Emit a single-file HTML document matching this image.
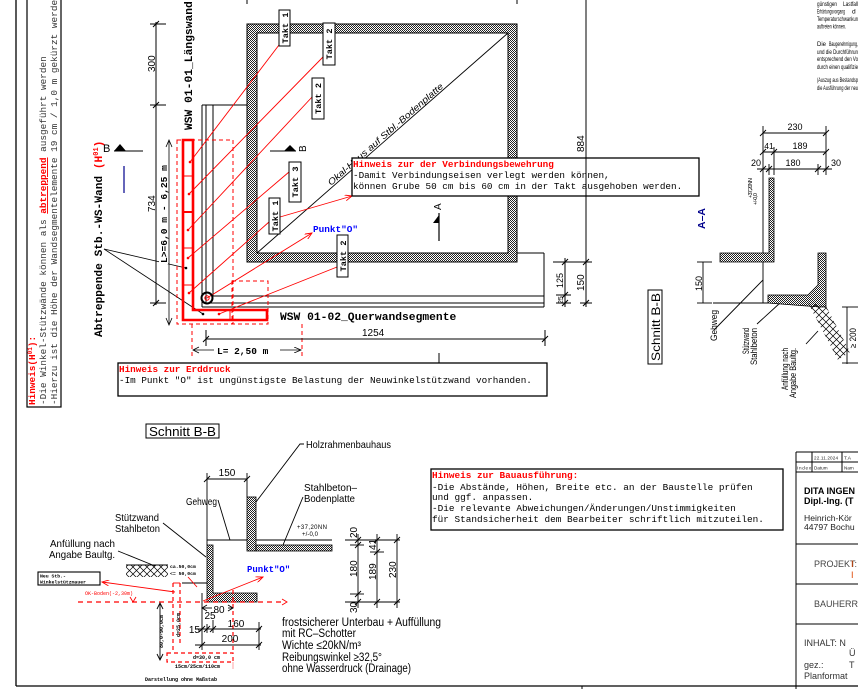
<!DOCTYPE html>
<html><head><meta charset="utf-8"><style>
html,body{margin:0;padding:0;background:#fff;}
svg{display:block;}
.m{font-family:"Liberation Mono",monospace;}
.s{font-family:"Liberation Sans",sans-serif;}
</style></head><body>
<svg width="858" height="689" viewBox="0 0 858 689" xmlns="http://www.w3.org/2000/svg">
<defs>
<pattern id="hx" width="2" height="2" patternUnits="userSpaceOnUse"><rect width="2" height="2" fill="#fff"/><rect width="1" height="1" fill="#222"/><rect x="1" y="1" width="1" height="1" fill="#222"/></pattern>
<pattern id="hf" width="7" height="7" patternUnits="userSpaceOnUse"><path d="M0,0L7,7M7,0L0,7" stroke="#000" stroke-width="0.7"/></pattern>
<marker id="ra" markerWidth="8" markerHeight="6" refX="7" refY="3" orient="auto" markerUnits="userSpaceOnUse"><path d="M0,0L7,3L0,6" fill="none" stroke="#f00" stroke-width="0.9"/></marker>
<marker id="ka" markerWidth="8" markerHeight="6" refX="7" refY="3" orient="auto" markerUnits="userSpaceOnUse"><path d="M0,0L7,3L0,6" fill="none" stroke="#000" stroke-width="0.8"/></marker>
</defs>

<!-- frame -->
<line x1="16" y1="0" x2="16" y2="686" stroke="#000" stroke-width="1.3"/>
<line x1="16" y1="686" x2="858" y2="686" stroke="#000" stroke-width="1.3"/>
<line x1="582" y1="686" x2="582" y2="689" stroke="#000"/>
<line x1="247" y1="0" x2="247" y2="4" stroke="#000"/>
<line x1="517" y1="0" x2="517" y2="4" stroke="#000"/>

<!-- left rotated note -->
<rect x="27" y="-2" width="34" height="409" fill="none" stroke="#000" stroke-width="1.2"/>
<g class="m" font-size="9.4">
<text transform="translate(35,405) rotate(-90)" fill="#f00" font-weight="bold">Hinweis(H<tspan font-size="6" dy="-3">01</tspan><tspan dy="3">):</tspan></text>
<text transform="translate(46,405) rotate(-90)" fill="#333">-Die Winkel-Stützwände können als <tspan fill="#f00" text-decoration="underline" font-weight="bold">abtreppend</tspan> ausgeführt werden</text>
<text transform="translate(57,405) rotate(-90)" fill="#333">-Hierzu ist die Höhe der Wandsegmentelemente 19 cm / 1,0 m gekürzt werden</text>
</g>

<!-- Abtreppende text -->
<text class="m" font-size="11.2" font-weight="bold" transform="translate(102,337) rotate(-90)">Abtreppende Stb.-WS-Wand <tspan fill="#f00">(H<tspan font-size="7" dy="-4">01</tspan><tspan dy="4">)</tspan></tspan></text>
<line x1="104" y1="249" x2="186" y2="268" stroke="#000" stroke-width="0.8"/>
<line x1="104" y1="249" x2="203" y2="314" stroke="#000" stroke-width="0.8"/>
<circle cx="186" cy="268" r="1.3" fill="#000"/>
<circle cx="203" cy="314" r="1.3" fill="#000"/>

<!-- B marker left -->
<text class="s" font-size="11" x="103" y="152">B</text>
<polygon points="114,151 120,144 126,151" fill="#000"/>
<line x1="114" y1="151" x2="143" y2="151" stroke="#000"/>
<line x1="124" y1="166" x2="124" y2="193" stroke="#00008b" stroke-width="1.2"/>

<!-- WSW 01-01 -->
<text class="m" font-size="11.3" font-weight="bold" transform="translate(192,130) rotate(-90)">WSW 01-01_Längswand</text>

<!-- dim 300/734 -->
<line x1="156" y1="22" x2="156" y2="305" stroke="#000"/>
<line x1="150" y1="24" x2="166" y2="24" stroke="#000"/>
<line x1="150" y1="105" x2="166" y2="105" stroke="#000"/>
<line x1="150" y1="303" x2="166" y2="303" stroke="#000"/>
<path d="M153,27L159,21M153,108L159,102M153,306L159,300" stroke="#000"/>
<text class="s" font-size="10" transform="translate(155,72) rotate(-90)">300</text>
<text class="s" font-size="10" transform="translate(155,212) rotate(-90)">734</text>

<!-- L dim -->
<line x1="169" y1="140" x2="169" y2="325" stroke="#000" stroke-width="0.8"/>
<path d="M166,147L169,140L172,147M166,318L169,325L172,318" fill="none" stroke="#000" stroke-width="0.8"/>
<rect x="159" y="162" width="9" height="102" fill="#fff"/>
<text class="m" font-size="9.6" font-weight="bold" transform="translate(167,263) rotate(-90)">L&gt;=6,0 m - 6,25 m</text>

<!-- plan lines -->
<g stroke="#000" stroke-width="1" fill="none">
<line x1="202" y1="105" x2="257" y2="105"/>
<line x1="202" y1="105" x2="202" y2="307"/>
<line x1="206" y1="105" x2="206" y2="303"/>
<line x1="213" y1="105" x2="213" y2="296"/>
<line x1="213" y1="296" x2="544" y2="296"/>
<line x1="206" y1="303" x2="544" y2="303"/>
<line x1="202" y1="307" x2="544" y2="307"/>
<line x1="544" y1="253" x2="544" y2="307"/>
<line x1="517" y1="253" x2="544" y2="253"/>
</g>

<!-- building -->
<rect x="247" y="24" width="270" height="238" fill="url(#hx)" stroke="#000"/>
<rect x="257" y="33" width="251" height="220" fill="#fff" stroke="#000"/>
<line x1="257" y1="253" x2="508" y2="33" stroke="#000" stroke-width="0.9"/>
<text class="s" font-size="9" font-style="italic" transform="translate(331,186) rotate(-41.2)" textLength="150" lengthAdjust="spacingAndGlyphs">Okal-Haus auf Stbl.-Bodenplatte</text>

<!-- B marker in plan -->
<line x1="270" y1="151" x2="296" y2="151" stroke="#000"/>
<polygon points="284,151 290,145 296,151" fill="#000"/>
<text class="s" font-size="10" transform="translate(306,152) rotate(-90)">B</text>

<!-- A marker -->
<line x1="439" y1="213" x2="439" y2="241" stroke="#000" stroke-width="1.2"/>
<polygon points="433,223 439,215 439,223" fill="#000"/>
<text class="s" font-size="10" transform="translate(441,210) rotate(-90)">A</text>

<!-- red wall -->
<g fill="none" stroke="#f00">
<rect x="177" y="140" width="56" height="184" stroke-dasharray="4,3"/>
<rect x="232" y="281" width="36" height="43" stroke-dasharray="4,3"/>
<line x1="192" y1="324" x2="192" y2="358" stroke-dasharray="4,3"/>
<line x1="302" y1="324" x2="302" y2="358" stroke-dasharray="4,3"/>
<path d="M183,140L193,140L193,310L267,310L267,320L183,320Z" stroke-width="2.6"/>
<line x1="183" y1="176" x2="193" y2="176"/>
<line x1="183" y1="212" x2="193" y2="212" stroke-width="2"/>
<line x1="183" y1="248" x2="193" y2="248"/>
<line x1="183" y1="285" x2="193" y2="285"/>
<line x1="230" y1="310" x2="230" y2="320"/>
</g>

<!-- L=2,50 -->
<line x1="193" y1="350" x2="214" y2="350" stroke="#000" stroke-width="0.8"/>
<line x1="280" y1="350" x2="301" y2="350" stroke="#000" stroke-width="0.8" marker-end="url(#ka)"/>
<path d="M199,347L193,350L199,353" fill="none" stroke="#000" stroke-width="0.8"/>
<text class="m" font-size="9.5" font-weight="bold" x="217" y="354">L= 2,50 m</text>

<!-- red leaders -->
<g stroke="#f00" stroke-width="0.9" fill="none">
<line x1="190" y1="162" x2="279" y2="45"/>
<line x1="189" y1="194" x2="323" y2="57"/>
<line x1="188" y1="230" x2="313" y2="96"/>
<line x1="188" y1="258" x2="289" y2="172"/>
<line x1="189" y1="293" x2="269" y2="222"/>
<line x1="219" y1="314" x2="337" y2="267"/>
<line x1="207" y1="298" x2="312" y2="233" marker-end="url(#ra)"/>
<line x1="280" y1="217" x2="352" y2="196" marker-end="url(#ra)"/>
</g>
<g fill="#f00">
<circle cx="190" cy="162" r="1.3"/><circle cx="189" cy="194" r="1.3"/><circle cx="188" cy="230" r="1.3"/>
<circle cx="188" cy="258" r="1.3"/><circle cx="189" cy="293" r="1.3"/><circle cx="219" cy="314" r="1.3"/>
</g>
<circle cx="207" cy="298" r="5.5" fill="none" stroke="#000" stroke-width="2"/>
<circle cx="207" cy="298" r="2.2" fill="none" stroke="#f00"/>

<!-- Takt boxes -->
<g class="m" font-size="8.6" font-weight="bold" text-anchor="middle">
<rect x="279" y="10" width="11" height="36" fill="#fff" stroke="#000"/>
<text transform="translate(288,28) rotate(-90)">Takt 1</text>
<rect x="323" y="23" width="12" height="42" fill="#fff" stroke="#000"/>
<text transform="translate(332,44) rotate(-90)">Takt 2</text>
<rect x="312" y="78" width="12" height="41" fill="#fff" stroke="#000"/>
<text transform="translate(321,98.5) rotate(-90)">Takt 2</text>
<rect x="289" y="162" width="12" height="40" fill="#fff" stroke="#000"/>
<text transform="translate(298,182) rotate(-90)">Takt 3</text>
<rect x="269" y="198" width="11" height="36" fill="#fff" stroke="#000"/>
<text transform="translate(278,216) rotate(-90)">Takt 1</text>
<rect x="337" y="235" width="11" height="42" fill="#fff" stroke="#000"/>
<text transform="translate(346,256) rotate(-90)">Takt 2</text>
</g>

<text class="m" font-size="9.4" font-weight="bold" fill="#00f" x="313" y="232">Punkt"O"</text>

<!-- Hinweis Verbindung -->
<rect x="352" y="158" width="347" height="38" fill="#fff" stroke="#000" stroke-width="1.3"/>
<g class="m" font-size="9.3">
<text x="353" y="167" fill="#f00" font-weight="bold">Hinweis zur der Verbindungsbewehrung</text>
<text x="353" y="178">-Damit Verbindungseisen verlegt werden können,</text>
<text x="353" y="189"> können Grube 50 cm bis 60 cm in der Takt ausgehoben werden.</text>
</g>

<!-- WSW 01-02 -->
<text class="m" font-size="11.3" font-weight="bold" x="280" y="320">WSW 01-02_Querwandsegmente</text>

<!-- right dims plan -->
<line x1="586" y1="0" x2="586" y2="307" stroke="#000"/>
<line x1="565" y1="258" x2="565" y2="307" stroke="#000"/>
<g stroke="#000">
<line x1="553" y1="262" x2="592" y2="262"/>
<line x1="580" y1="303" x2="592" y2="303"/>
<line x1="556" y1="295" x2="571" y2="295"/>
<line x1="556" y1="303" x2="571" y2="303"/>
<path d="M562,265L568,259M562,298L568,292M562,306L568,300M583,265L589,259M583,306L589,300"/>
</g>
<text class="s" font-size="10" transform="translate(584,152) rotate(-90)">884</text>
<text class="s" font-size="10" transform="translate(584,291) rotate(-90)">150</text>
<text class="s" font-size="9" transform="translate(563,288) rotate(-90)">125</text>
<text class="s" font-size="7" transform="translate(563,304) rotate(-90)">25</text>

<!-- 1254 dim -->
<line x1="206" y1="339" x2="545" y2="339" stroke="#000"/>
<line x1="206" y1="330" x2="206" y2="346" stroke="#000"/>
<line x1="545" y1="330" x2="545" y2="346" stroke="#000"/>
<path d="M203,342L209,336M542,342L548,336" stroke="#000"/>
<text class="s" font-size="10" x="362" y="336">1254</text>
<line x1="439" y1="353" x2="439" y2="363" stroke="#000"/>

<!-- Hinweis Erddruck -->
<rect x="118" y="363" width="429" height="33" fill="#fff" stroke="#000" stroke-width="1.3"/>
<g class="m" font-size="9.3">
<text x="119" y="372" fill="#f00" font-weight="bold">Hinweis zur Erddruck</text>
<text x="119" y="383">-Im Punkt "O" ist ungünstigste Belastung der Neuwinkelstützwand vorhanden.</text>
</g>

<!-- Schnitt B-B rotated -->
<rect x="648" y="290" width="14" height="74" fill="none" stroke="#000"/>
<text class="s" font-size="12" transform="translate(660,361) rotate(-90)" textLength="68" lengthAdjust="spacingAndGlyphs">Schnitt B-B</text>

<!-- top right text block -->
<g class="s" font-size="6.6" fill="#000">
<text x="817" y="6" textLength="20" lengthAdjust="spacingAndGlyphs">günstigen</text>
<text x="843" y="6" textLength="15" lengthAdjust="spacingAndGlyphs">Lastfall</text>
<text x="817" y="13.5" textLength="28" lengthAdjust="spacingAndGlyphs">Erhärtungsvorgang</text>
<text x="852" y="13.5">d</text>
<text x="817" y="21" textLength="41" lengthAdjust="spacingAndGlyphs">Temperaturschwankun</text>
<text x="817" y="28.5" textLength="29" lengthAdjust="spacingAndGlyphs">auftreten können.</text>
<text x="817" y="46" textLength="9" lengthAdjust="spacingAndGlyphs">Die</text>
<text x="829" y="46" textLength="29" lengthAdjust="spacingAndGlyphs">Baugenehmigung,</text>
<text x="817" y="54" textLength="41" lengthAdjust="spacingAndGlyphs">und  die  Durchführun</text>
<text x="817" y="61" textLength="41" lengthAdjust="spacingAndGlyphs">entsprechend den Vo</text>
<text x="817" y="69" textLength="41" lengthAdjust="spacingAndGlyphs">durch  einen  qualifizie</text>
<text x="817" y="82" textLength="41" lengthAdjust="spacingAndGlyphs">(Auszug aus Bestandsp</text>
<text x="817" y="90" textLength="41" lengthAdjust="spacingAndGlyphs">die Ausführung der neu</text>
</g>

<!-- A-A section -->
<g stroke="#000" stroke-width="0.9" fill="none">
<line x1="763" y1="133" x2="826" y2="133"/>
<line x1="763" y1="152" x2="826" y2="152"/>
<line x1="757" y1="169" x2="832" y2="169"/>
<line x1="763" y1="126" x2="763" y2="303"/>
<line x1="826" y1="126" x2="826" y2="175"/>
<line x1="774" y1="147" x2="774" y2="175"/>
<line x1="769" y1="164" x2="769" y2="175"/>
<line x1="818" y1="164" x2="818" y2="175"/>
<path d="M760,136L766,130M823,136L829,130M760,155L766,149M771,155L777,149M823,155L829,149M760,172L766,166M766,172L772,166M815,172L821,166M823,172L829,166"/>
<line x1="713" y1="303" x2="768" y2="303"/>
<line x1="703" y1="262" x2="703" y2="303"/>
<line x1="697" y1="262" x2="712" y2="262"/>
<line x1="697" y1="303" x2="712" y2="303"/>
<line x1="763" y1="280" x2="714" y2="330"/>
<line x1="780" y1="303" x2="757" y2="324"/>
<line x1="818" y1="331" x2="806" y2="344"/>
<line x1="847" y1="307" x2="847" y2="364"/>
<line x1="842" y1="307" x2="858" y2="307"/>
<line x1="842" y1="363" x2="858" y2="363"/>
</g>
<path d="M769,178L774,178L774,262L720,262L720,253L769,253Z" fill="url(#hx)" stroke="#000" stroke-width="0.8"/>
<path d="M768,295L808,295L818,285L818,253L826,253L826,307L820,307L768,303Z" fill="url(#hx)" stroke="#000" stroke-width="0.8"/>
<polygon points="808,303 826,306 850,352 838,360" fill="url(#hf)" stroke="none"/>
<g class="s" font-size="9">
<text x="795" y="130" text-anchor="middle">230</text>
<text x="769" y="149" text-anchor="middle" font-size="8.5">41</text>
<text x="800" y="149" text-anchor="middle">189</text>
<text x="761" y="166" text-anchor="end">20</text>
<text x="793" y="166" text-anchor="middle">180</text>
<text x="831" y="166">30</text>
<text transform="translate(702,291) rotate(-90)">150</text>
<text transform="translate(717,341) rotate(-90)" textLength="31" lengthAdjust="spacingAndGlyphs">Gehweg</text>
<text transform="translate(749,328) rotate(-90)" text-anchor="end" textLength="26" lengthAdjust="spacingAndGlyphs">Stützwand</text>
<text transform="translate(757,328) rotate(-90)" text-anchor="end" textLength="37" lengthAdjust="spacingAndGlyphs">Stahlbeton</text>
<text transform="translate(788,348) rotate(-90)" text-anchor="end" textLength="42" lengthAdjust="spacingAndGlyphs">Anfüllung nach</text>
<text transform="translate(796,348) rotate(-90)" text-anchor="end" textLength="50" lengthAdjust="spacingAndGlyphs">Angabe Baultg.</text>
<text transform="translate(856,348) rotate(-90)" textLength="20" lengthAdjust="spacingAndGlyphs">≥ 200</text>
</g>
<g class="s" font-size="5.5">
<text transform="translate(752,198) rotate(-90)" textLength="20">+37,20NN</text>
<text transform="translate(757,205) rotate(-90)" textLength="12">+/-0,0</text>
</g>
<text class="s" font-size="10" font-weight="bold" fill="#00008b" transform="translate(705,229) rotate(-90)" textLength="21" lengthAdjust="spacingAndGlyphs">A–A</text>

<!-- title block -->
<g stroke="#000" stroke-width="1" fill="none">
<line x1="796" y1="452" x2="796" y2="689"/>
<line x1="796" y1="452" x2="858" y2="452"/>
<line x1="796" y1="462" x2="858" y2="462"/>
<line x1="796" y1="472" x2="858" y2="472"/>
<line x1="812" y1="452" x2="812" y2="472"/>
<line x1="842" y1="452" x2="842" y2="472"/>
<line x1="796" y1="544" x2="858" y2="544"/>
<line x1="796" y1="584" x2="858" y2="584"/>
<line x1="796" y1="624" x2="858" y2="624"/>
</g>
<g class="s" fill="#222">
<text x="814" y="459.5" font-size="4.6" textLength="24">22.11.2024</text>
<text x="844" y="459.5" font-size="4.8">T.A</text>
<text x="797" y="469.5" font-size="4.6" textLength="14">Index</text>
<text x="814" y="469.5" font-size="4.6">Datum</text>
<text x="844" y="469.5" font-size="4.6">Nam</text>
<text x="804" y="494" font-size="9" font-weight="bold" fill="#000">DITA INGEN</text>
<text x="804" y="504" font-size="9" font-weight="bold" fill="#000">Dipl.-Ing. (T</text>
<text x="804" y="521" font-size="8.6">Heinrich-Kör</text>
<text x="804" y="530" font-size="8.6">44797 Bochu</text>
<text x="814" y="567" font-size="9" fill="#444">PROJEKT:</text>
<text x="851" y="567" font-size="9" fill="#d40">I</text>
<text x="851" y="578" font-size="9" fill="#d40">I</text>
<text x="814" y="607" font-size="9" fill="#444">BAUHERR:</text>
<text x="804" y="646" font-size="9" fill="#333">INHALT: N</text>
<text x="849" y="656" font-size="9" fill="#333">Ü</text>
<text x="804" y="668" font-size="9" fill="#333">gez.:</text>
<text x="849" y="668" font-size="9" fill="#333">T</text>
<text x="804" y="679" font-size="9" fill="#333">Planformat</text>
</g>

<!-- Bauausfuehrung -->
<rect x="431" y="469" width="352" height="61" fill="#fff" stroke="#000" stroke-width="1.3"/>
<g class="m" font-size="9.4">
<text x="432" y="478" fill="#f00" font-weight="bold">Hinweis zur Bauausführung:</text>
<text x="432" y="490">-Die Abstände, Höhen, Breite etc. an der Baustelle prüfen</text>
<text x="432" y="500"> und ggf. anpassen.</text>
<text x="432" y="511">-Die relevante Abweichungen/Änderungen/Unstimmigkeiten</text>
<text x="432" y="522"> für Standsicherheit dem Bearbeiter schriftlich mitzuteilen.</text>
</g>

<!-- Schnitt B-B bottom -->
<rect x="146" y="424" width="73" height="14" fill="none" stroke="#000"/>
<text class="s" font-size="13" x="149" y="436" textLength="67" lengthAdjust="spacingAndGlyphs">Schnitt B-B</text>
<g class="s" font-size="10.5">
<text x="306" y="448" textLength="85" lengthAdjust="spacingAndGlyphs">Holzrahmenbauhaus</text>
<text x="227" y="476" text-anchor="middle" font-size="10">150</text>
<text x="186" y="505" textLength="31" lengthAdjust="spacingAndGlyphs">Gehweg</text>
<text x="304" y="491" textLength="53" lengthAdjust="spacingAndGlyphs">Stahlbeton–</text>
<text x="304" y="502" textLength="51" lengthAdjust="spacingAndGlyphs">Bodenplatte</text>
<text x="115" y="521" textLength="44" lengthAdjust="spacingAndGlyphs">Stützwand</text>
<text x="115" y="532" textLength="45" lengthAdjust="spacingAndGlyphs">Stahlbeton</text>
<text x="50" y="547" textLength="65" lengthAdjust="spacingAndGlyphs">Anfüllung nach</text>
<text x="49" y="558" textLength="66" lengthAdjust="spacingAndGlyphs">Angabe Baultg.</text>
</g>
<g stroke="#000" stroke-width="0.9" fill="none">
<polyline points="304,444 300,444 256,502"/>
<line x1="207" y1="479" x2="247" y2="479"/>
<line x1="207" y1="473" x2="207" y2="545"/>
<line x1="247" y1="473" x2="247" y2="497"/>
<path d="M204,482L210,476M244,482L250,476"/>
<line x1="207" y1="540" x2="332" y2="540"/>
<line x1="218" y1="500" x2="230" y2="540"/>
<line x1="303" y1="497" x2="283" y2="545"/>
<line x1="163" y1="523" x2="206" y2="557"/>
<line x1="118" y1="551" x2="155" y2="566"/>
<line x1="126" y1="565" x2="168" y2="565"/>
<line x1="182" y1="583" x2="207" y2="583"/>
</g>
<rect x="247" y="497" width="9" height="54" fill="url(#hx)" stroke="#000" stroke-width="0.8"/>
<rect x="256" y="545" width="76" height="6" fill="url(#hx)" stroke="#000" stroke-width="0.8"/>
<path d="M207,545L213,545L213,593L257,593L257,602L207,602Z" fill="url(#hx)" stroke="#000" stroke-width="0.8"/>
<rect x="126" y="565" width="42" height="12" fill="url(#hf)"/>
<g class="s" font-size="6">
<text x="297" y="529" textLength="30">+37,20NN</text>
<text x="302" y="536" textLength="16">+/-0,0</text>
</g>
<g class="m" font-size="4.8" font-weight="bold">
<text x="170" y="568">ca.50,0cm</text>
<text x="170" y="575">&lt;= 50,0cm</text>
</g>
<rect x="38" y="572" width="62" height="13" fill="#fff" stroke="#000" stroke-width="1.1"/>
<g class="m" font-size="4.8" font-weight="bold">
<text x="40" y="577.5">Neu Stb.-</text>
<text x="40" y="583.5">Winkelstützmauer</text>
</g>
<g stroke="#f00" stroke-width="0.9" fill="none">
<line x1="175" y1="592" x2="102" y2="582" marker-end="url(#ra)"/>
<line x1="188" y1="577" x2="197" y2="587"/>
<line x1="78" y1="602" x2="285" y2="602" stroke-dasharray="5,4" stroke-width="1.2"/>
<path d="M282,599L287,602L282,605"/>
<line x1="173" y1="583" x2="173" y2="653" stroke-dasharray="4,3" stroke-width="1.2"/>
<line x1="180" y1="583" x2="180" y2="645" stroke-dasharray="4,3" stroke-width="1.2"/>
<line x1="173" y1="583" x2="180" y2="583"/>
<rect x="167" y="653" width="66" height="9" stroke-dasharray="4,3" stroke-width="1.2"/>
<line x1="233" y1="590" x2="233" y2="653" stroke-dasharray="4,3" stroke-width="1.2"/>
<line x1="233" y1="662" x2="233" y2="669" stroke="#f99"/>
<line x1="203" y1="601" x2="263" y2="577" marker-end="url(#ra)"/>
<path d="M130,597L133,602L136,597"/>
</g>
<text class="m" font-size="5" fill="#f00" x="85" y="595">OK-Boden(-2,30m)</text>
<text class="m" font-size="9" font-weight="bold" fill="#00f" x="247" y="572">Punkt"O"</text>

<!-- bottom dims -->
<g stroke="#000" stroke-width="0.9" fill="none">
<line x1="202" y1="593" x2="202" y2="650"/>
<line x1="202" y1="608" x2="212" y2="608"/>
<line x1="228" y1="608" x2="233" y2="608"/>
<path d="M207,605L202,608L207,611M228,605L233,608L228,611"/>
<line x1="195" y1="629" x2="261" y2="629"/>
<line x1="207" y1="624" x2="207" y2="633"/>
<line x1="213" y1="620" x2="213" y2="633"/>
<line x1="259" y1="622" x2="259" y2="650"/>
<line x1="195" y1="645" x2="261" y2="645"/>
<path d="M199,632L205,626M204,632L210,626M210,632L216,626M256,632L262,626M199,648L205,642M256,648L262,642"/>
<line x1="160" y1="603" x2="160" y2="660"/>
<path d="M157,609L160,603L163,609M157,654L160,660L163,654"/>
<line x1="345" y1="540" x2="400" y2="540"/>
<line x1="345" y1="602" x2="400" y2="602"/>
<line x1="350" y1="545" x2="364" y2="545"/>
<line x1="350" y1="594" x2="364" y2="594"/>
<line x1="370" y1="552" x2="384" y2="552"/>
<line x1="358" y1="534" x2="358" y2="608"/>
<line x1="377" y1="534" x2="377" y2="608"/>
<line x1="397" y1="534" x2="397" y2="608"/>
<path d="M355,543L361,537M355,548L361,542M355,597L361,591M355,605L361,599M374,543L380,537M374,555L380,549M374,605L380,599M394,543L400,537M394,605L400,599"/>
</g>
<g class="s" font-size="10">
<text x="219" y="613" text-anchor="middle">80</text>
<text x="200" y="633" text-anchor="end">15</text>
<text x="210" y="619" text-anchor="middle">25</text>
<text x="236" y="627" text-anchor="middle">160</text>
<text x="230" y="642" text-anchor="middle">200</text>
<text transform="translate(357,538) rotate(-90)">20</text>
<text transform="translate(357,577) rotate(-90)">180</text>
<text transform="translate(357,613) rotate(-90)">30</text>
<text transform="translate(376,550) rotate(-90)">41</text>
<text transform="translate(376,580) rotate(-90)">189</text>
<text transform="translate(396,578) rotate(-90)">230</text>
</g>
<g class="m" font-size="5" font-weight="bold">
<text transform="translate(180,637) rotate(-90)">d=25,0cm</text>
<text transform="translate(163,648) rotate(-90)">80,0-90,0cm</text>
<text x="193" y="659">d=30,0 cm</text>
<text x="175" y="668">15cm/25cm/110cm</text>
<text x="145" y="681">Darstellung ohne Maßstab</text>
</g>
<g class="s" font-size="11.5">
<text x="282" y="626" textLength="159" lengthAdjust="spacingAndGlyphs">frostsicherer Unterbau + Auffüllung</text>
<text x="282" y="637" textLength="74" lengthAdjust="spacingAndGlyphs">mit RC–Schotter</text>
<text x="282" y="649" textLength="79" lengthAdjust="spacingAndGlyphs">Wichte ≤20kN/m³</text>
<text x="282" y="661" textLength="100" lengthAdjust="spacingAndGlyphs">Reibungswinkel ≥32,5°</text>
<text x="282" y="672" textLength="129" lengthAdjust="spacingAndGlyphs">ohne Wasserdruck (Drainage)</text>
</g>
</svg>
</body></html>
